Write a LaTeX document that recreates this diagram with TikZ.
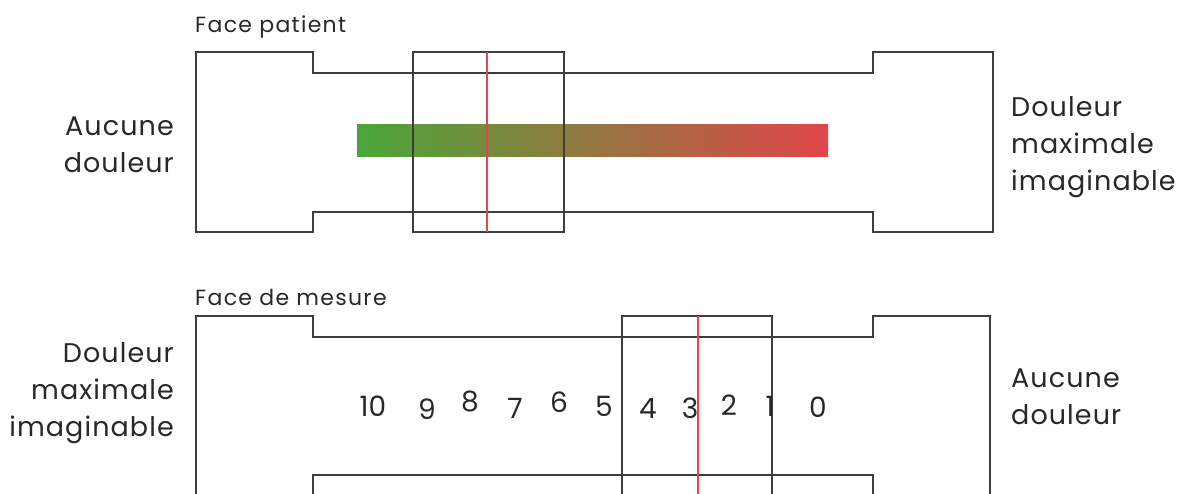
\documentclass[tikz,border=0pt]{standalone}
\usepackage{fontspec}
\setmainfont{Poppins}
\newfontfamily\lblfont[LetterSpace=4]{Poppins}
\newfontfamily\capfont[LetterSpace=6]{Poppins}
\definecolor{cursorred}{RGB}{232,66,74}
\definecolor{gradgreen}{RGB}{74,166,56}
\definecolor{gradred}{RGB}{224,70,74}
\definecolor{ink}{RGB}{40,40,40}
\begin{document}
\begin{tikzpicture}[x=1pt,y=-1pt,
  ruler/.style={draw=ink!90,line width=1.5pt,line join=miter},
  slider/.style={draw=ink!90,line width=1.5pt},
  cursor/.style={draw=cursorred,line width=2.8pt},
  lbl/.style={font=\lblfont\fontsize{27}{37}\selectfont,text=ink,inner sep=0pt},
  facecap/.style={font=\capfont\fontsize{22}{24}\selectfont,text=ink,inner sep=0pt,anchor=west},
  num/.style={font=\fontsize{28}{30}\selectfont,text=ink,inner sep=0pt}]
\useasboundingbox (0,0) rectangle (1182,494);

% ---------- Face patient ----------
\node[facecap] (cap1) at (195,27) {Face patient};
\draw[ruler] (196,52) -- (313,52) -- (313,73) -- (873,73) -- (873,52) -- (993,52)
  -- (993,232) -- (873,232) -- (873,212) -- (313,212) -- (313,232) -- (196,232) -- cycle;
\shade[left color=gradgreen,right color=gradred] (357,125) rectangle (828,157);
\draw[slider] (413,52) rectangle (564,232);
\coordinate (c1t) at (487,52);
\coordinate (c1b) at (487,232);
\draw[cursor] (c1t) -- (c1b);
\node[lbl,align=right,anchor=east] (l1) at (174,145) {Aucune\\douleur};
\node[lbl,align=left,anchor=west] (r1) at (1011,147) {Douleur\\maximale\\imaginable};

% ---------- Face de mesure ----------
\node[facecap] (cap2) at (195,297) {Face de mesure};
\draw[ruler] (196,316) -- (313,316) -- (313,337) -- (873,337) -- (873,316) -- (990,316)
  -- (990,496) -- (873,496) -- (873,475) -- (313,475) -- (313,496) -- (196,496) -- cycle;
\draw[slider] (622,316) rectangle (772,496);
\coordinate (c2t) at (698,316);
\coordinate (c2b) at (698,496);
\draw[cursor] (c2t) -- (c2b);
\node[lbl,align=right,anchor=east] (l2) at (174,393) {Douleur\\maximale\\imaginable};
\node[lbl,align=left,anchor=west] (r2) at (1011,397) {Aucune\\douleur};

\node[num] (n10) at (373,406) {10};
\node[num] (n9) at (427,409) {9};
\node[num] (n8) at (470,402) {8};
\node[num] (n7) at (515,408) {7};
\node[num] (n6) at (559,402) {6};
\node[num] (n5) at (604,406) {5};
\node[num] (n4) at (648,408) {4};
\node[num] (n3) at (690,408) {3};
\node[num] (n2) at (729,405) {2};
\node[num] (n1) at (770,406) {1};
\node[num] (n0) at (818,407) {0};
\end{tikzpicture}
\end{document}
